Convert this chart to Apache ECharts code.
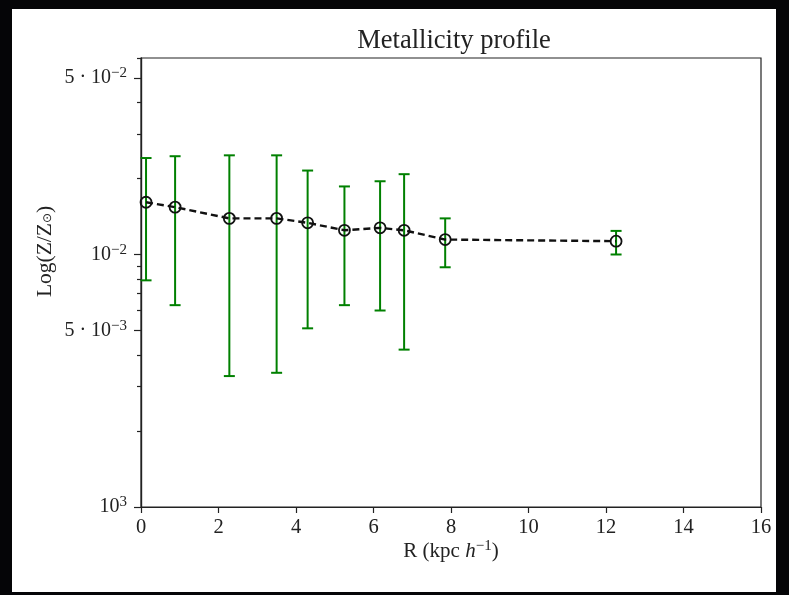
<!DOCTYPE html>
<html>
<head>
<meta charset="utf-8">
<script src="https://cdn.jsdelivr.net/npm/echarts@6/dist/echarts.min.js"></script>
<style>
html,body{margin:0;padding:0;background:#050507;}
#main{width:789px;height:595px;}
</style>
</head>
<body>
<div id="main"></div>
<script>
// ---- data ----
const radius = [0.13, 0.88, 2.28, 3.50, 4.30, 5.25, 6.17, 6.79, 7.85, 12.26];
const metallicity = [0.0161, 0.0154, 0.0139, 0.0139, 0.01335, 0.01247, 0.01275, 0.01247, 0.01146, 0.01129];
const errUpper = [0.0241, 0.0245, 0.0247, 0.0247, 0.0215, 0.0186, 0.0195, 0.0208, 0.0139, 0.0124];
const errLower = [0.0079, 0.0063, 0.0033, 0.0034, 0.0051, 0.0063, 0.0060, 0.0042, 0.0089, 0.0100];
const xTicks = [0, 2, 4, 6, 8, 10, 12, 14, 16];
const yLabeledTicks = [0.001, 0.005, 0.01, 0.05];
const yLabelTexts = ['10{s|3}', '5 · 10{s|−3}', '10{s|−2}', '5 · 10{s|−2}'];
const yMinorTicks = [0.002, 0.003, 0.004, 0.006, 0.007, 0.008, 0.009, 0.02, 0.03, 0.04, 0.06];

const FONT = '"Liberation Serif", "DejaVu Serif", serif';
const chart = echarts.init(document.getElementById('main'), null, {renderer: 'canvas'});

const lineData = radius.map((r, i) => [r, metallicity[i]]);
const errData = radius.map((r, i) => [r, errLower[i], errUpper[i]]);

function labelFor(v) {
  const lv = Math.round(Math.log10(v) * 1000);
  for (let i = 0; i < yLabeledTicks.length; i++) {
    if (Math.round(Math.log10(yLabeledTicks[i]) * 1000) === lv) return yLabelTexts[i];
  }
  return '';
}

const richSup = {
  s: {fontFamily: FONT, fontSize: 15, color: '#222', padding: [0, 0, 9, 0]}
};

const yBase = {
  type: 'log',
  logBase: 10,
  min: 0.001,
  max: 0.06,
  position: 'left',
  splitLine: {show: false},
  axisLine: {show: true, lineStyle: {color: '#222', width: 1.2}}
};

chart.setOption({
  backgroundColor: '#050507',
  animation: false,
  graphic: [
    {type: 'rect', shape: {x: 12, y: 9, width: 764, height: 583}, style: {fill: '#ffffff'}, z: -10}
  ],
  title: {
    text: 'Metallicity profile',
    left: 449,
    top: 23,
    textAlign: 'center',
    textStyle: {fontFamily: FONT, fontSize: 26.5, fontWeight: 'normal', color: '#222'}
  },
  grid: {left: 141, right: 28, top: 58, bottom: 88, show: true, borderColor: '#222', borderWidth: 1.2, backgroundColor: 'transparent', containLabel: false, outerBoundsMode: 'none'},
  xAxis: {
    type: 'value',
    min: 0, max: 16, interval: 2,
    name: 'R (kpc {i|h}{s|−1})',
    nameLocation: 'middle',
    nameGap: 32,
    nameMoveOverlap: false,
    nameTextStyle: {fontFamily: FONT, fontSize: 21, color: '#222', rich: {i: {fontFamily: FONT, fontStyle: 'italic', fontSize: 21, color: '#222'}, s: {fontFamily: FONT, fontSize: 15, color: '#222', padding: [0, 0, 10, 0]}}},
    splitLine: {show: false},
    axisLine: {show: true, onZero: false, lineStyle: {color: '#222', width: 1.2}},
    axisTick: {show: true, inside: false, length: 6, lineStyle: {color: '#222', width: 1.2}},
    axisLabel: {fontFamily: FONT, fontSize: 20.5, color: '#222', margin: 10,
      formatter: v => xTicks.indexOf(v) >= 0 ? String(v) : ''}
  },
  yAxis: [
    Object.assign({}, yBase, {
      name: 'Log(Z/Z{sub|⊙})',
      nameLocation: 'middle',
      nameGap: 85,
      nameRotate: 90,
      nameMoveOverlap: false,
      nameTextStyle: {fontFamily: FONT, fontSize: 21.5, color: '#222', padding: [0, 0, 0, 62],
        rich: {sub: {fontFamily: 'DejaVu Sans', fontSize: 12, color: '#222', padding: [6, 0, 0, 0]}}},
      axisTick: {show: true, inside: false, length: 7, customValues: yLabeledTicks, lineStyle: {color: '#222', width: 1.2}},
      axisLabel: {show: true, customValues: yLabeledTicks, fontFamily: FONT, fontSize: 20, color: '#222', margin: 14,
        formatter: v => labelFor(v), rich: richSup}
    }),
    Object.assign({}, yBase, {
      axisTick: {show: true, inside: false, length: 4, customValues: yMinorTicks, lineStyle: {color: '#222', width: 1.2}},
      axisLabel: {show: false}
    })
  ],
  series: [
    {
      type: 'custom',
      name: 'errors',
      yAxisIndex: 0,
      data: errData,
      encode: {x: 0, y: [1, 2]},
      z: 2,
      renderItem: function (params, api) {
        const x = api.value(0);
        const lo = api.coord([x, api.value(1)]);
        const hi = api.coord([x, api.value(2)]);
        const cap = 5.5;
        const st = {stroke: '#008000', lineWidth: 2};
        return {
          type: 'group',
          children: [
            {type: 'line', shape: {x1: lo[0], y1: lo[1], x2: hi[0], y2: hi[1]}, style: st},
            {type: 'line', shape: {x1: lo[0] - cap, y1: lo[1], x2: lo[0] + cap, y2: lo[1]}, style: st},
            {type: 'line', shape: {x1: hi[0] - cap, y1: hi[1], x2: hi[0] + cap, y2: hi[1]}, style: st}
          ]
        };
      }
    },
    {
      type: 'line',
      name: 'metallicity',
      yAxisIndex: 0,
      data: lineData,
      z: 3,
      symbol: 'circle',
      symbolSize: 11,
      showAllSymbol: true,
      lineStyle: {color: '#111', width: 2.4, type: [7, 4]},
      itemStyle: {color: 'rgba(0,0,0,0)', borderColor: '#111', borderWidth: 1.8}
    }
  ]
});
</script>
</body>
</html>
